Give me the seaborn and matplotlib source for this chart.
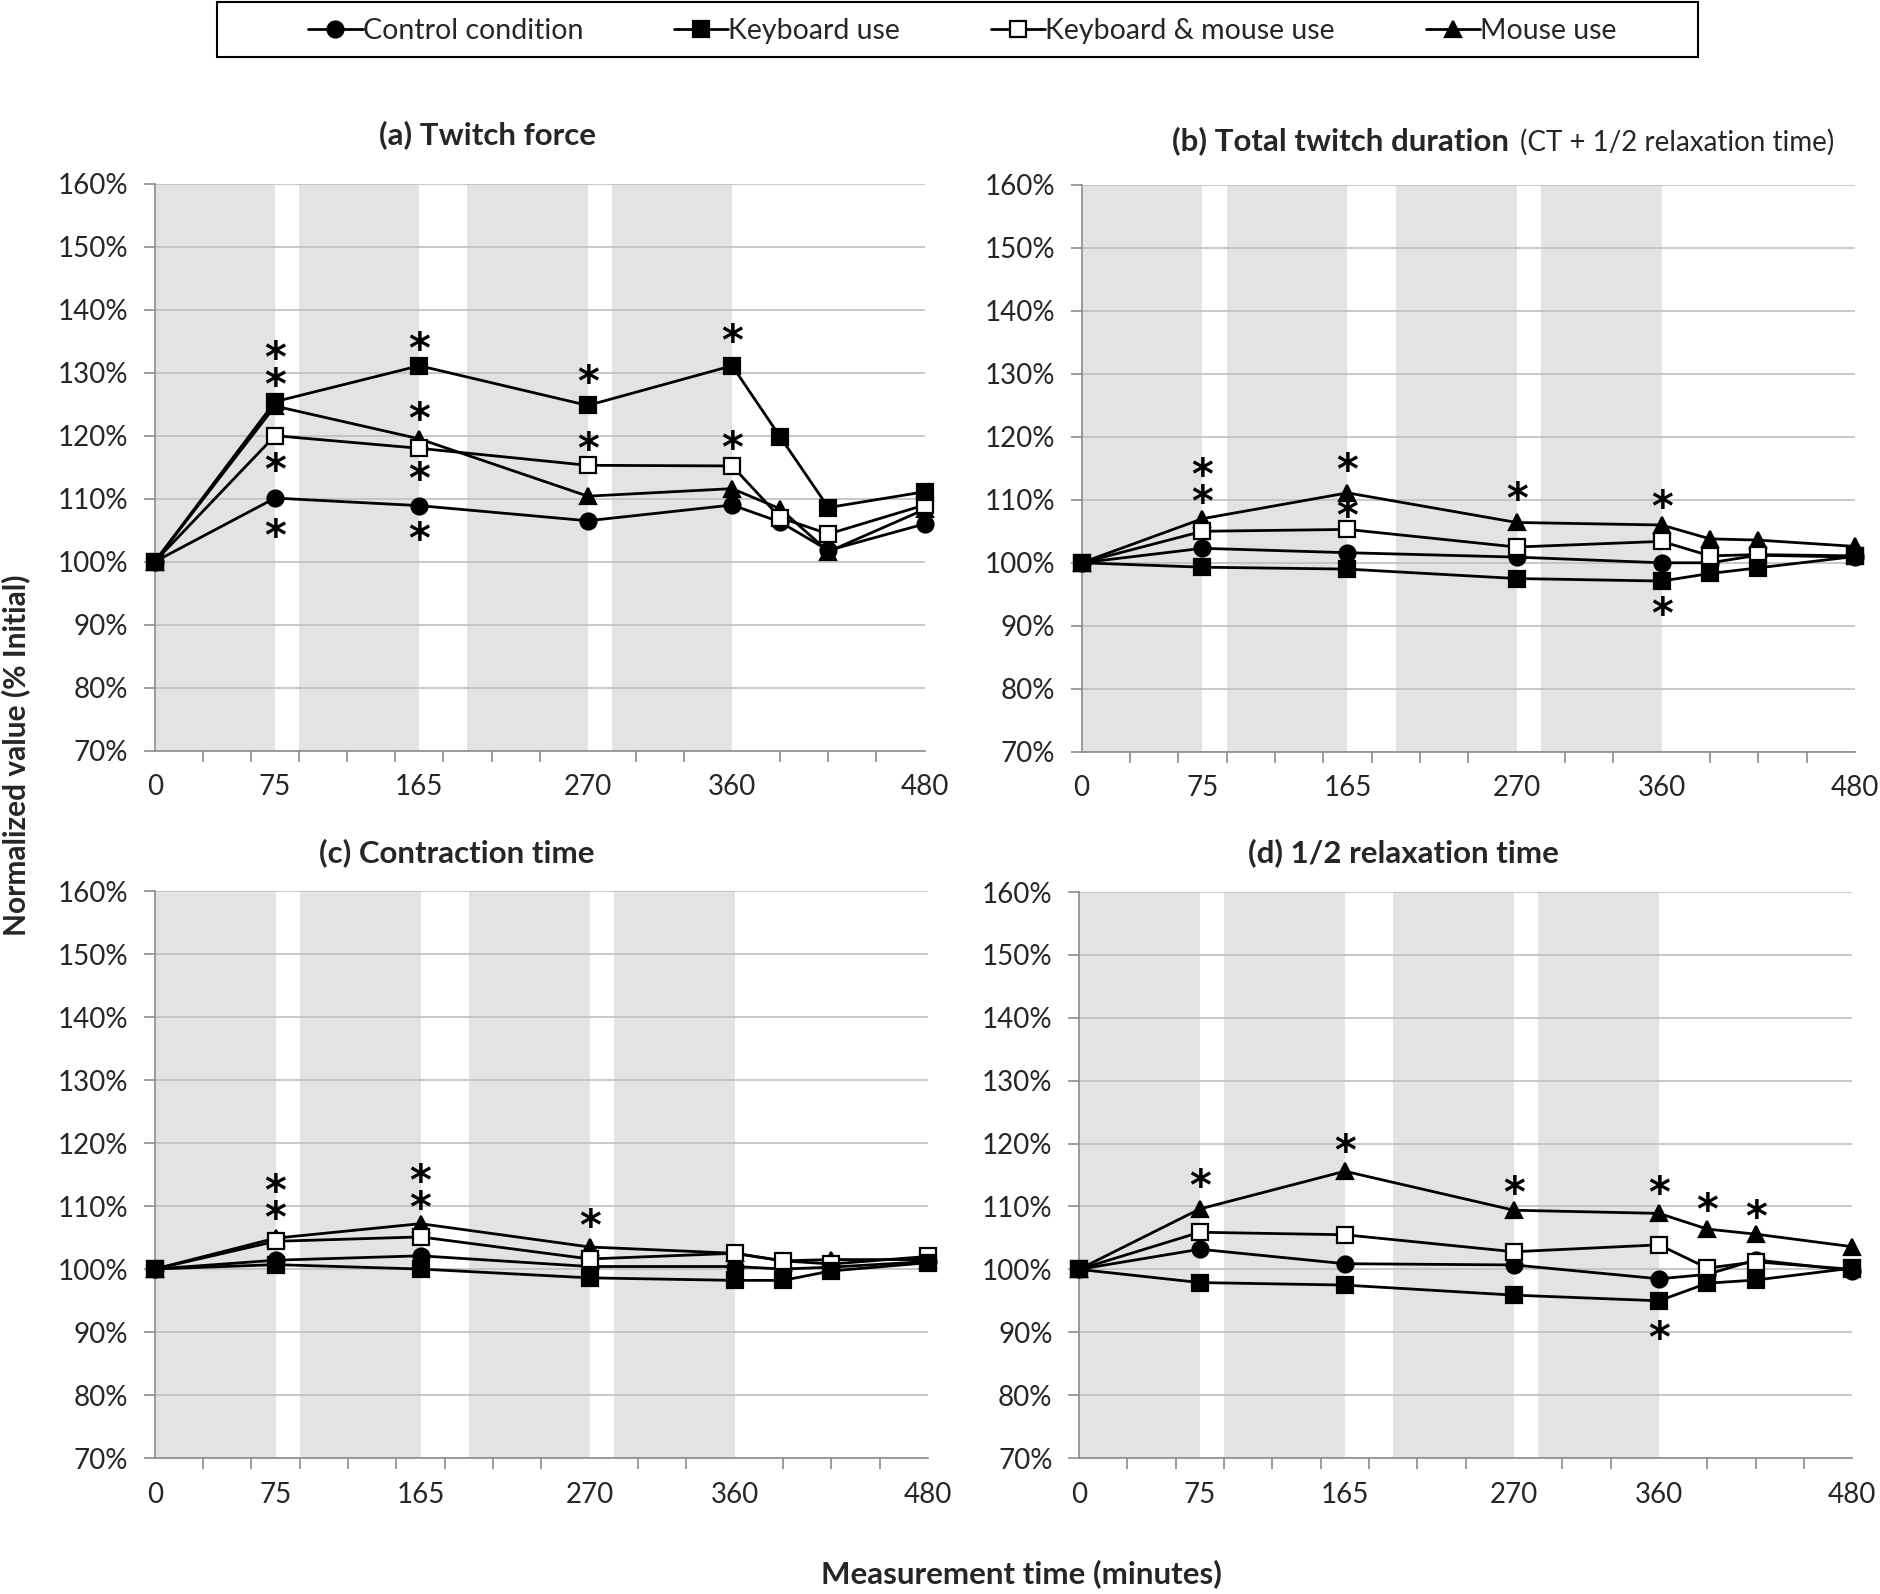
#!/usr/bin/env python3
# -*- coding: utf-8 -*-
"""
Twitch force / twitch duration over a working day, four conditions.
Values are normalized to the initial measurement (% Initial).
"""

import numpy as np
import pandas as pd
import matplotlib
matplotlib.use('Agg')
import matplotlib.pyplot as plt
from matplotlib.lines import Line2D
from matplotlib.patches import Rectangle
import seaborn as sns

# ============================================
# Style
# ============================================
sns.set_theme(style='white')
plt.rcParams['font.family'] = ['Lato', 'DejaVu Sans']

# ============================================
# Data
# ============================================
TIMES = [0, 75, 165, 270, 360, 390, 420, 480]
XTICK_LABELS = [0, 75, 165, 270, 360, 480]
WORK_BLOCKS = [(0, 75), (90, 165), (195, 270), (285, 360)]

CONDITIONS = ['Control condition', 'Keyboard use', 'Keyboard & mouse use', 'Mouse use']

# (a) Twitch force
A_CONTROL = [100, 110.1, 108.9, 106.5, 109.0, 106.3, 101.8, 106.0]
A_KEYBOARD = [100, 125.4, 131.1, 124.8, 131.1, 119.8, 108.6, 111.1]
A_KEY_MOUSE = [100, 120.0, 118.0, 115.3, 115.2, 107.0, 104.4, 109.0]
A_MOUSE = [100, 124.7, 119.5, 110.4, 111.6, 108.4, 101.6, 108.3]
A_STARS = [(75, 133.7), (75, 128.8), (75, 115.6), (75, 105.1),
           (165, 134.8), (165, 123.7), (165, 114.2), (165, 104.6),
           (270, 129.5), (270, 118.9), (360, 136.1), (360, 119.1)]

# (b) Total twitch duration
B_CONTROL = [100, 102.3, 101.6, 100.9, 100.0, 100.0, 101.2, 100.9]
B_KEYBOARD = [100, 99.3, 99.0, 97.5, 97.1, 98.3, 99.2, 101.0]
B_KEY_MOUSE = [100, 105.0, 105.3, 102.5, 103.4, 101.1, 101.3, 101.1]
B_MOUSE = [100, 107.0, 111.1, 106.4, 106.0, 103.8, 103.6, 102.6]
B_STARS = [(75, 114.7), (75, 110.8), (165, 115.8), (165, 108.4),
           (270, 111.2), (360, 109.8), (360, 92.8)]

# (c) Contraction time
C_CONTROL = [100, 101.4, 102.1, 100.4, 100.4, 100.0, 100.3, 101.2]
C_KEYBOARD = [100, 100.7, 100.0, 98.6, 98.2, 98.2, 99.7, 101.0]
C_KEY_MOUSE = [100, 104.4, 105.1, 101.6, 102.5, 101.3, 100.8, 102.0]
C_MOUSE = [100, 104.9, 107.2, 103.5, 102.5, 101.3, 101.5, 101.5]
C_STARS = [(75, 113.4), (75, 109.2), (165, 114.8), (165, 110.9), (270, 107.9)]

# (d) 1/2 relaxation time
D_CONTROL = [100, 103.2, 100.9, 100.7, 98.5, 99.2, 101.5, 99.8]
D_KEYBOARD = [100, 97.9, 97.5, 95.9, 95.0, 97.8, 98.3, 100.2]
D_KEY_MOUSE = [100, 105.9, 105.5, 102.8, 103.9, 100.2, 101.2, 100.0]
D_MOUSE = [100, 109.6, 115.6, 109.4, 108.9, 106.4, 105.6, 103.6]
D_STARS = [(75, 114.2), (165, 119.8), (270, 113.1), (360, 113.1),
           (360, 90.1), (390, 110.5), (420, 109.4)]

# marker style per condition
MARKERS = {
    'Control condition': dict(marker='o', mfc='black'),
    'Keyboard use': dict(marker='s', mfc='black'),
    'Keyboard & mouse use': dict(marker='s', mfc='white'),
    'Mouse use': dict(marker='^', mfc='black'),
}
DRAW_ORDER = ['Control condition', 'Mouse use', 'Keyboard & mouse use', 'Keyboard use']

GRID_GREY = '#bfbfbf'
BAND_GREY = '#e3e3e3'
AXIS_GREY = '#8c8c8c'


def make_frame(control, keyboard, key_mouse, mouse):
    """long-format table for one panel"""
    rows = []
    for cond, vals in zip(CONDITIONS, [control, keyboard, key_mouse, mouse]):
        for t, v in zip(TIMES, vals):
            rows.append({'time': t, 'value': v, 'condition': cond})
    return pd.DataFrame(rows)


def group_stars(stars, gap=6.0):
    """stars at the same time and close together are written as one stacked text"""
    groups = []
    for x, y in sorted(stars, key=lambda s: (s[0], -s[1])):
        if groups and groups[-1][0] == x and groups[-1][1][-1] - y < gap:
            groups[-1][1].append(y)
        else:
            groups.append((x, [y]))
    return groups


def draw_panel(ax, df, stars):
    # work periods shaded
    for start, end in WORK_BLOCKS:
        ax.axvspan(start, end, ymin=0, ymax=1, color=BAND_GREY, lw=0, zorder=0)

    for cond in DRAW_ORDER:
        sub = df[df['condition'] == cond]
        st = MARKERS[cond]
        sns.lineplot(data=sub, x='time', y='value', ax=ax, color='black',
                     lw=2.0, marker=st['marker'], markersize=11.5,
                     markerfacecolor=st['mfc'], markeredgecolor='black',
                     markeredgewidth=1.6, clip_on=False, zorder=3, legend=False)

    for x, ys in group_stars(stars):
        ax.annotate('\n'.join(['*'] * len(ys)), xy=(x, np.mean(ys)),
                    xytext=(0, -6), textcoords='offset points',
                    ha='center', va='center', fontsize=30, fontweight='bold',
                    family=['DejaVu Sans'], linespacing=0.55,
                    color='black', zorder=4)

    ax.set_xlim(0, 480)
    ax.set_ylim(70, 160)
    ax.set_yticks(np.arange(70, 161, 10))
    ax.set_yticklabels([f'{v:.0f}%' for v in np.arange(70, 161, 10)])
    ax.set_xticks(XTICK_LABELS)
    ax.set_xticklabels([str(v) for v in XTICK_LABELS])
    ax.set_xticks(np.arange(0, 481, 30), minor=True)
    ax.tick_params(axis='x', which='major', length=0, pad=17, labelsize=20)
    ax.tick_params(axis='x', which='minor', length=8, width=1.2, color=AXIS_GREY,
                   direction='out', bottom=True)
    ax.tick_params(axis='y', which='major', length=8, width=1.2, color=AXIS_GREY,
                   direction='out', left=True, pad=11, labelsize=20)

    ax.yaxis.grid(True, color=GRID_GREY, lw=1.2, zorder=1)
    ax.xaxis.grid(False)
    ax.set_axisbelow(True)
    for side in ['top', 'right']:
        ax.spines[side].set_visible(False)
    for side in ['left', 'bottom']:
        ax.spines[side].set_color(AXIS_GREY)
        ax.spines[side].set_linewidth(1.2)
    ax.set_xlabel('')
    ax.set_ylabel('')


def main():
    fig = plt.figure(figsize=(18.8, 15.94), dpi=100)

    ax_a = fig.add_axes([0.0823, 0.529, 0.4095, 0.3558])
    ax_b = fig.add_axes([0.5753, 0.5284, 0.4114, 0.3556])
    ax_c = fig.add_axes([0.0823, 0.0853, 0.4113, 0.3557])
    ax_d = fig.add_axes([0.5739, 0.0853, 0.4114, 0.3551])

    draw_panel(ax_a, make_frame(A_CONTROL, A_KEYBOARD, A_KEY_MOUSE, A_MOUSE), A_STARS)
    draw_panel(ax_b, make_frame(B_CONTROL, B_KEYBOARD, B_KEY_MOUSE, B_MOUSE), B_STARS)
    draw_panel(ax_c, make_frame(C_CONTROL, C_KEYBOARD, C_KEY_MOUSE, C_MOUSE), C_STARS)
    draw_panel(ax_d, make_frame(D_CONTROL, D_KEYBOARD, D_KEY_MOUSE, D_MOUSE), D_STARS)

    # panel titles
    ax_a.text(0.432, 1.087, '(a) Twitch force', transform=ax_a.transAxes,
              ha='center', va='center', fontsize=22.5, fontweight='bold')
    ax_b.text(0.553, 1.078, '(b) Total twitch duration', transform=ax_b.transAxes,
              ha='right', va='center', fontsize=22.5, fontweight='bold')
    ax_b.text(0.567, 1.076, '(CT + 1/2 relaxation time)', transform=ax_b.transAxes,
              ha='left', va='center', fontsize=20)
    ax_c.text(0.39, 1.068, '(c) Contraction time', transform=ax_c.transAxes,
              ha='center', va='center', fontsize=22.5, fontweight='bold')
    ax_d.text(0.42, 1.07, '(d) 1/2 relaxation time', transform=ax_d.transAxes,
              ha='center', va='center', fontsize=22.5, fontweight='bold')

    # shared axis labels
    fig.text(0.0085, 0.526, 'Normalized value (% Initial)', rotation=90,
             ha='center', va='center', fontsize=21.5, fontweight='bold')
    fig.text(0.5435, 0.0125, 'Measurement time (minutes)',
             ha='center', va='center', fontsize=22.5, fontweight='bold')

    # legend in a framed box at the top
    handles = []
    for cond in CONDITIONS:
        st = MARKERS[cond]
        handles.append(Line2D([], [], color='black', lw=2, marker=st['marker'],
                              markersize=11.5, markerfacecolor=st['mfc'],
                              markeredgecolor='black', markeredgewidth=1.6))
    fig.legend(handles, CONDITIONS, loc='center', bbox_to_anchor=(0.512, 0.9805),
               ncol=4, frameon=False, fontsize=20.5, handlelength=1.9,
               handletextpad=0.0, columnspacing=3.2)
    fig.patches.append(Rectangle((217 / 1880, 1 - 57 / 1594), (1698 - 217) / 1880,
                                 55 / 1594, transform=fig.transFigure,
                                 facecolor='none', edgecolor='black', lw=1.5))

    fig.savefig('out.png', dpi=100)
    plt.close(fig)


if __name__ == '__main__':
    main()
